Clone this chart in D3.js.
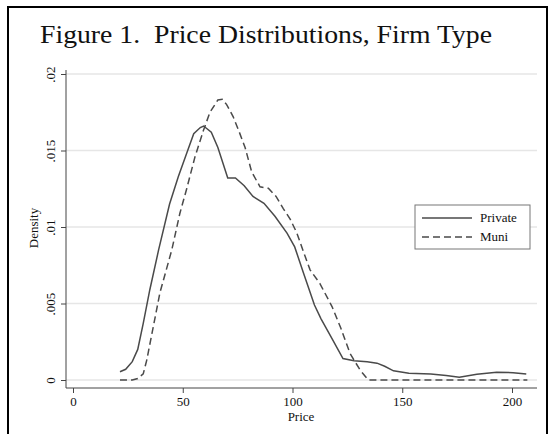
<!DOCTYPE html>
<html>
<head>
<meta charset="utf-8">
<script src="https://cdn.jsdelivr.net/npm/d3@7"></script>
<style>
  body { margin: 0; background: #fff; }
  text { font-family: "Liberation Serif", "DejaVu Serif", serif; fill: #111; }
</style>
</head>
<body>
<div id="chart"></div>
<script>
// values
const privatePrice = [21.4, 24, 27, 29.5, 32, 35, 39, 44, 48, 52, 55, 58, 59.5, 63, 66, 70.5, 74, 78, 82, 87, 92, 97.5, 101, 105, 110, 113, 118, 123, 128, 134, 138.5, 142, 146, 153, 163, 170, 176, 184, 193, 200.5, 206.5];
const privateDensity = [0.00054, 0.0007, 0.0012, 0.002, 0.0037, 0.0059, 0.0085, 0.0115, 0.0133, 0.0149, 0.0161, 0.0165, 0.0166, 0.0162, 0.0152, 0.0132, 0.0132, 0.0127, 0.012, 0.01155, 0.0107, 0.0096, 0.0087, 0.007, 0.0049, 0.004, 0.0027, 0.0014, 0.00126, 0.0012, 0.0011, 0.0009, 0.0006, 0.00044, 0.0004, 0.0003, 0.00018, 0.00037, 0.0005, 0.00048, 0.0004];

const muniPrice = [21.4, 27, 29.5, 32, 33.6, 36.6, 39.6, 45, 48.7, 51.8, 55.6, 59.4, 62.4, 66, 68, 70, 73, 75.5, 78.4, 81.4, 85.2, 89, 92.5, 95.8, 99, 102, 105.7, 108, 112.5, 118, 122, 126.2, 130.8, 134.5, 150, 180, 207];
const muniDensity = [0, 0, 0.0001, 0.0004, 0.0013, 0.0035, 0.0057, 0.0085, 0.0109, 0.0125, 0.0146, 0.0163, 0.0175, 0.0183, 0.01835, 0.018, 0.0172, 0.0163, 0.0152, 0.0136, 0.01263, 0.01253, 0.012, 0.0112, 0.0105, 0.0096, 0.0081, 0.0072, 0.0063, 0.0048, 0.0034, 0.00174, 0.00065, 0, 0, 0, 0];

const xTicks = [0, 50, 100, 150, 200];
const yTicks = [0, 0.005, 0.01, 0.015, 0.02];
const yTickLabels = ["0", ".005", ".01", ".015", ".02"];
const seriesNames = ["Private", "Muni"];

const W = 550, H = 434;
const svg = d3.select("#chart").append("svg").attr("width", W).attr("height", H);

// plot area (axes lines)
const plot = { left: 66, right: 537, top: 70, bottom: 388 };

const xScale = d3.scaleLinear().domain([0, 200]).range([73, 512]);
const yScale = d3.scaleLinear().domain([0, 0.02]).range([380, 74]);

// outer frame
svg.append("rect")
    .attr("x", 8).attr("y", 7)
    .attr("width", 539).attr("height", 440)
    .attr("fill", "none").attr("stroke", "#000").attr("stroke-width", 2);

// title
svg.append("text")
    .attr("x", 40).attr("y", 43)
    .attr("font-size", 26)
    .attr("textLength", 452)
    .attr("lengthAdjust", "spacingAndGlyphs")
    .attr("xml:space", "preserve")
    .text("Figure 1.  Price Distributions, Firm Type");

// gridlines
svg.append("g").selectAll("line")
    .data(yTicks)
    .join("line")
    .attr("x1", plot.left).attr("x2", plot.right)
    .attr("y1", d => yScale(d)).attr("y2", d => yScale(d))
    .attr("stroke", "#e6e6e6").attr("stroke-width", 1.5);

// axes
const xAxis = d3.axisBottom(xScale).tickValues(xTicks).tickSize(5).tickPadding(4).tickFormat(d3.format("d"));
const gx = svg.append("g")
    .attr("transform", `translate(0,${plot.bottom})`)
    .call(xAxis);
gx.select(".domain").attr("d", `M${plot.left},0H${plot.right}`);
gx.selectAll("text").attr("font-size", 13).attr("font-family", "Liberation Serif");

const yAxis = d3.axisLeft(yScale).tickValues(yTicks).tickSize(5).tickFormat((d, i) => yTickLabels[i]);
const gy = svg.append("g")
    .attr("transform", `translate(${plot.left},0)`)
    .call(yAxis);
gy.select(".domain").attr("d", `M0,${plot.top}V${plot.bottom}`);
gy.selectAll(".tick text")
    .attr("font-size", 13)
    .attr("font-family", "Liberation Serif")
    .attr("x", null).attr("dy", null)
    .attr("text-anchor", "middle")
    .attr("transform", "translate(-11,0) rotate(-90)");

svg.selectAll(".domain, .tick line").attr("stroke", "#444");

// axis titles
svg.append("text")
    .attr("x", 301).attr("y", 421)
    .attr("text-anchor", "middle").attr("font-size", 13)
    .text("Price");
svg.append("text")
    .attr("transform", "translate(38,228) rotate(-90)")
    .attr("text-anchor", "middle").attr("font-size", 13)
    .text("Density");

// curves
const line = d3.line().x(d => xScale(d[0])).y(d => yScale(d[1]));
const privateData = d3.zip(privatePrice, privateDensity);
const muniData = d3.zip(muniPrice, muniDensity);

svg.append("path")
    .datum(privateData)
    .attr("d", line)
    .attr("fill", "none").attr("stroke", "#4a4a4a").attr("stroke-width", 1.5);

svg.append("path")
    .datum(muniData)
    .attr("d", line)
    .attr("fill", "none").attr("stroke", "#4a4a4a").attr("stroke-width", 1.5)
    .attr("stroke-dasharray", "7,4");

// legend
const legend = svg.append("g").attr("transform", "translate(415,205)");
legend.append("rect")
    .attr("width", 115).attr("height", 44)
    .attr("fill", "#fff").attr("stroke", "#777").attr("stroke-width", 1);
seriesNames.forEach((name, i) => {
    const y = 13 + i * 19;
    legend.append("line")
        .attr("x1", 7).attr("x2", 57).attr("y1", y).attr("y2", y)
        .attr("stroke", "#4a4a4a").attr("stroke-width", 1.5)
        .attr("stroke-dasharray", i === 1 ? "7,4" : null);
    legend.append("text")
        .attr("x", 65).attr("y", y + 4)
        .attr("font-size", 13)
        .text(name);
});
</script>
</body>
</html>
